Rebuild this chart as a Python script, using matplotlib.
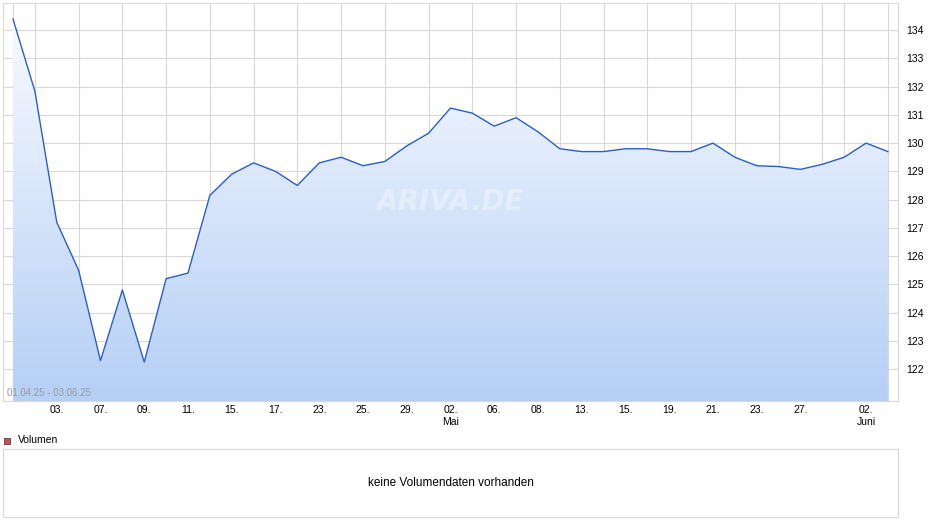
import matplotlib
matplotlib.use('Agg')
import matplotlib.pyplot as plt
from matplotlib.patches import Rectangle
import numpy as np

prices = [134.39, 131.84, 127.2, 125.5, 122.3, 124.8, 122.25, 125.2, 125.4, 128.15,
          128.9, 129.3, 129.0, 128.5, 129.3, 129.5, 129.2, 129.35, 129.9, 130.35,
          131.24, 131.06, 130.6, 130.9, 130.4, 129.8, 129.7, 129.7, 129.8, 129.8,
          129.7, 129.7, 130.0, 129.5, 129.2, 129.17, 129.07, 129.25, 129.5, 130.0,
          129.7]
tick_idx = [2, 4, 6, 8, 10, 12, 14, 16, 18, 20, 22, 24, 26, 28, 30, 32, 34, 36, 39]
tick_labels = ["03.", "07.", "09.", "11.", "15.", "17.", "23.", "25.", "29.", "02.\nMai",
               "06.", "08.", "13.", "15.", "19.", "21.", "23.", "27.", "02.\nJuni"]
yticks = list(range(122, 135))

W, H = 940, 526
fig = plt.figure(figsize=(W / 100, H / 100), dpi=100)
ax = fig.add_axes([3 / W, (H - 401) / H, 895 / W, 398 / H])
x = np.arange(len(prices))
ylo, yhi = 120.87, 134.96
ax.set_xlim(-0.457, 40.46)
ax.set_ylim(ylo, yhi)

# gradient fill under the line
grad = np.linspace(0, 1, 256).reshape(-1, 1)
cmap = matplotlib.colors.LinearSegmentedColormap.from_list("g", ["#b5cff5", "#f7faff"])
im = ax.imshow(grad, extent=[x[0], x[-1], ylo, max(prices)], origin='lower',
               aspect='auto', cmap=cmap, zorder=1)
poly = ax.fill_between(x, prices, ylo, color='none')
im.set_clip_path(poly.get_paths()[0], transform=ax.transData)

ax.plot(x, prices, color='#2a5fc8', lw=1.0, zorder=3)

ax.set_xticks(x, minor=True)
ax.grid(True, which='minor', axis='x', color='#d8d8d8', lw=0.8, zorder=0)
ax.set_yticks(yticks)
ax.grid(True, which='major', axis='y', color='#d8d8d8', lw=0.8, zorder=0)
ax.set_axisbelow(True)
ax.set_xticks(tick_idx)
ax.set_xticklabels(tick_labels, fontsize=7.5, family='Liberation Sans')
ax.tick_params(axis='x', which='both', length=0, pad=3)
ax.yaxis.tick_right()
ax.tick_params(axis='y', length=0, labelsize=7.5, pad=6)
for lab in ax.get_yticklabels():
    lab.set_family('Liberation Sans')
for s in ax.spines.values():
    s.set_color('#d8d8d8')

ax.text(0.005, 0.012, "01.04.25 - 03.06.25", transform=ax.transAxes, fontsize=7,
        color='#999999', family='Liberation Sans')
ax.text(0.5, 0.5, "ARIVA.DE", transform=ax.transAxes, fontsize=20, color='white',
        alpha=0.35, ha='center', va='center', fontweight='bold', style='italic', zorder=4)

# volume panel
fig.patches.append(Rectangle((3 / W, (H - 517) / H), 895 / W, 68 / H, transform=fig.transFigure,
                             fill=False, edgecolor='#d8d8d8', lw=0.8))
fig.patches.append(Rectangle((4 / W, (H - 444) / H), 6 / W, 6 / H, transform=fig.transFigure,
                             facecolor='#d05050', edgecolor='#444444', lw=0.6))
fig.text(18 / W, (H - 440) / H, "Volumen", fontsize=7.5, va='center', family='Liberation Sans')
fig.text(451 / W, (H - 483) / H, "keine Volumendaten vorhanden", fontsize=8.5, ha='center',
         va='center', family='Liberation Sans')

fig.savefig("out.png", dpi=100)
